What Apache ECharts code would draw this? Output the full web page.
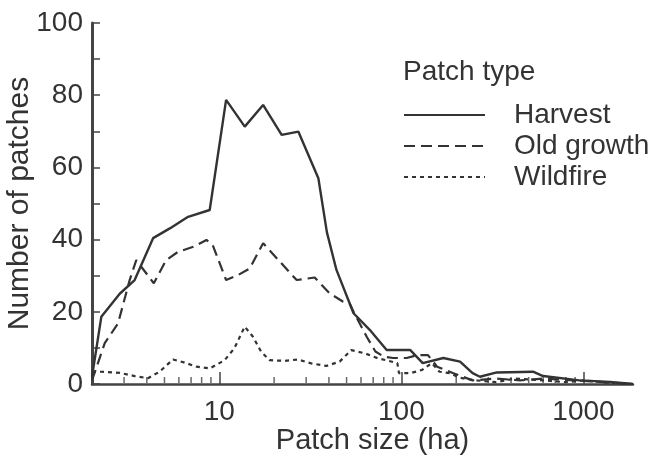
<!DOCTYPE html>
<html>
<head>
<meta charset="utf-8">
<script src="https://cdn.jsdelivr.net/npm/echarts@6/dist/echarts.min.js"></script>
<style>
  html, body { margin: 0; padding: 0; background: #fff; }
  #chart { width: 658px; height: 462px; }
</style>
</head>
<body>
<div id="chart"></div>
<script>
// 数据：斑块大小 (ha) 与斑块数量
const harvestX = [2, 2.25, 2.84, 3.43, 4.33, 5.35, 6.74, 8.86, 10.9, 13.8, 17.4, 22, 27.2, 35, 39, 44, 54.6, 67, 83, 112, 131, 170, 210, 246, 270, 334, 528, 600, 950, 1400, 1870];
const harvestY = [2, 18.6, 25, 28.8, 40.4, 43.1, 46.3, 48.2, 78.7, 71.3, 77.3, 69, 69.9, 57, 42, 31.6, 19.6, 15, 9.4, 9.4, 5.8, 7.2, 6.2, 3, 2, 3.2, 3.4, 2.2, 1, 0.6, 0];

const oldGrowthX = [2, 2.35, 2.78, 3.22, 3.5, 4.37, 5.1, 5.93, 7.2, 8.5, 9.2, 10.9, 12.7, 14.7, 17.4, 21.5, 26.6, 33.4, 40.4, 47.9, 52, 55, 64.5, 72, 80, 90, 107, 122, 140, 157, 193, 246, 330, 450, 600, 900, 1300, 1870];
const oldGrowthY = [1, 11.3, 16.8, 28.8, 34.3, 27.9, 34.3, 36.6, 38, 39.9, 38.5, 28.8, 30.2, 32, 39, 33.9, 28.8, 29.5, 25.1, 22.8, 22.3, 19.7, 13.1, 9, 7.6, 7.2, 7.2, 8, 8, 4.8, 3, 1, 1.5, 1, 1.5, 1, 0.5, 0];

const wildfireX = [2, 2.24, 2.84, 3.43, 4.06, 4.7, 5.57, 6.47, 7.5, 8.86, 10.7, 12.1, 13.8, 15.3, 17, 18.9, 22.9, 27, 32, 38.7, 45.8, 53, 63, 74.5, 82.5, 95, 97, 112, 130, 147, 162, 185, 210, 260, 330, 420, 600, 800, 1000, 1400, 1870];
const wildfireY = [3.4, 3.4, 3.1, 2.2, 1.6, 3.4, 6.8, 5.9, 4.8, 4.3, 6.6, 9.9, 15.9, 13.1, 8.9, 6.6, 6.4, 6.8, 5.7, 5, 6.2, 9.4, 8.5, 7.1, 6.6, 5.8, 3, 3, 3.9, 5.8, 3.4, 3, 1.7, 1, 0.5, 1.5, 1, 0.5, 1, 0.3, 0];

// x 轴次刻度位置
const minorTicks = [3, 4, 5, 6, 7, 8, 9, 20, 30, 40, 50, 60, 70, 80, 90, 200, 300, 400, 500, 600, 700, 800, 900];

const seriesNames = ['Harvest', 'Old growth', 'Wildfire'];

const pair = (xs, ys) => xs.map((x, i) => [x, ys[i]]);

const ink = '#333';
const font = 'Liberation Sans, Arial, sans-serif';

const chart = echarts.init(document.getElementById('chart'));

const lineSeries = (name, xs, ys, type, width) => ({
  name: name,
  type: 'line',
  data: pair(xs, ys),
  symbol: 'none',
  animation: false,
  lineStyle: { color: ink, width: width, type: type },
  itemStyle: { color: ink }
});

const option = {
  animation: false,
  title: {
    text: 'Patch type',
    left: 403,
    top: 58,
    padding: 0,
    textStyle: { fontFamily: font, fontSize: 28, fontWeight: 'normal', color: ink }
  },
  legend: {
    data: seriesNames,
    orient: 'vertical',
    left: 403,
    top: 101,
    padding: 0,
    itemWidth: 81,
    itemHeight: 14,
    itemGap: 3,
    itemStyle: { opacity: 0 },
    textStyle: { fontFamily: font, fontSize: 28, color: ink, padding: [0, 0, 0, 24] }
  },
  grid: { left: 92, right: 25, top: 23, bottom: 78, outerBoundsMode: 'none', containLabel: false },
  xAxis: {
    type: 'log',
    logBase: 10,
    min: 2,
    max: 1870,
    name: 'Patch size (ha)',
    nameLocation: 'middle',
    nameGap: 42,
    nameMoveOverlap: false,
    nameTextStyle: { fontFamily: font, fontSize: 29, color: ink, padding: [0, 0, 0, 20] },
    axisLine: { lineStyle: { color: '#444', width: 2.5 } },
    axisTick: { inside: true, length: 12, lineStyle: { color: '#444', width: 1.5 } },
    axisLabel: {
      fontFamily: font, fontSize: 28, color: ink, margin: 14,
      showMinLabel: false, showMaxLabel: false,
      formatter: v => String(Math.round(v))
    },
    splitLine: { show: false }
  },
  yAxis: {
    type: 'value',
    min: 0,
    max: 100,
    interval: 10,
    name: 'Number of patches',
    nameLocation: 'middle',
    nameGap: 57,
    nameMoveOverlap: false,
    nameTextStyle: { fontFamily: font, fontSize: 30, color: ink },
    axisLine: { show: true, lineStyle: { color: '#444', width: 3 } },
    axisTick: { inside: true, length: 8, lineStyle: { color: '#444', width: 1.5 } },
    axisLabel: {
      fontFamily: font, fontSize: 28, color: ink, margin: 9,
      formatter: v => (v % 20 === 0 ? String(v) : '')
    },
    splitLine: { show: false }
  },
  series: [
    lineSeries('Harvest', harvestX, harvestY, 'solid', 2.4),
    lineSeries('Old growth', oldGrowthX, oldGrowthY, [11, 6], 2.2),
    lineSeries('Wildfire', wildfireX, wildfireY, [4, 4], 2.2),
    {
      // 次刻度（3–9, 20–90, 200–900）
      name: 'minor',
      type: 'scatter',
      data: minorTicks.map(v => [v, 0]),
      symbol: 'rect',
      symbolSize: [1.5, 6],
      symbolOffset: [0, -4],
      silent: true,
      clip: false,
      z: 1,
      itemStyle: { color: '#444' }
    }
  ]
};

chart.setOption(option);
</script>
</body>
</html>
